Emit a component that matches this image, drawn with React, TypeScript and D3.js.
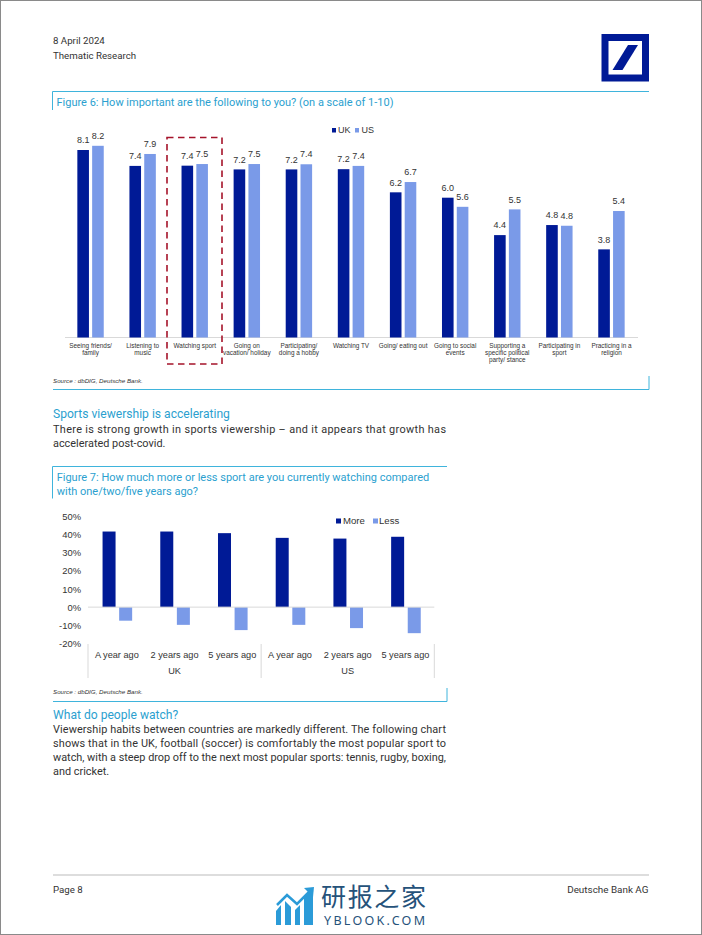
import React from "react";
import * as d3 from "d3";

const categories6 = [
  ["Seeing friends/", "family"],
  ["Listening to", "music"],
  ["Watching sport"],
  ["Going on", "vacation/ holiday"],
  ["Participating/", "doing a hobby"],
  ["Watching TV"],
  ["Going/ eating out"],
  ["Going to social", "events"],
  ["Supporting a", "specific political", "party/ stance"],
  ["Participating in", "sport"],
  ["Practicing in a", "religion"],
];
const ukLabels6 = [8.1, 7.4, 7.4, 7.2, 7.2, 7.2, 6.2, 6.0, 4.4, 4.8, 3.8];
const usLabels6 = [8.2, 7.9, 7.5, 7.5, 7.4, 7.4, 6.7, 5.6, 5.5, 4.8, 5.4];
const uk6 = [8.02, 7.34, 7.35, 7.19, 7.19, 7.2, 6.21, 5.98, 4.38, 4.81, 3.77];
const us6 = [8.2, 7.85, 7.42, 7.42, 7.41, 7.34, 6.65, 5.59, 5.48, 4.78, 5.41];

const periods7 = ["A year ago", "2 years ago", "5 years ago", "A year ago", "2 years ago", "5 years ago"];
const countries7 = ["UK", "US"];
const more7 = [41.8, 41.8, 40.9, 38.3, 37.9, 38.9];
const less7 = [-7.5, -9.8, -12.7, -9.8, -11.6, -14.4];
const ticks7 = [50, 40, 30, 20, 10, 0, -10, -20];

const para1 = [
  ["There is strong growth in sports viewership \u2013 and it appears that growth has", true],
  ["accelerated post-covid.", false],
] as const;
const para2 = [
  ["Viewership habits between countries are markedly different. The following chart", true],
  ["shows that in the UK, football (soccer) is comfortably the most popular sport to", true],
  ["watch, with a steep drop off to the next most popular sports: tennis, rugby, boxing,", true],
  ["and cricket.", false],
] as const;

const NAVY = "#001a96";
const LIGHT = "#7a9ae8";
const CYAN = "#3fb4dc";
const TITLE = "#2b9fcf";
const TEXT = "#333333";
const FONT = "Roboto, 'Liberation Sans', sans-serif";
const CHART = "'Liberation Sans', Arial, sans-serif";

export default function App() {
  const x6 = d3.scaleBand<number>().domain(d3.range(11)).range([64.5, 637.5]);
  const y6 = d3.scaleLinear().domain([0, 8.2]).range([337.5, 145.8]);
  const x7 = d3.scaleBand<number>().domain(d3.range(6)).range([88, 434.3]);
  const y7 = d3.scaleLinear().domain([-20, 50]).range([643.3, 516.7]);

  return (
    <svg
      width={702}
      height={935}
      viewBox="0 0 702 935"
      style={{ position: "absolute", left: 0, top: 0, background: "#fff" }}
      fontFamily={FONT}
    >
      <rect x={0.5} y={0.5} width={701} height={934} fill="none" stroke="#8a8a8a" />

      <text x={53} y={44} fontSize={9.7} fill={TEXT}>8 April 2024</text>
      <text x={53} y={59} fontSize={9.7} fill={TEXT}>Thematic Research</text>

      {/* Logo */}
      <rect x={601.5} y={34} width={47.5} height={47.5} fill={NAVY} />
      <rect x={608.5} y={41} width={33.5} height={33.5} fill="#fff" />
      <path d="M612.5 70 L628 45 L638 45 L622.5 70 Z" fill={NAVY} />

      {/* Figure 6 frame */}
      <path d="M52.5 110 V91.5 H649" fill="none" stroke={CYAN} />
      <text x={56.5} y={106} fontSize={11} fill={TITLE}>
        Figure 6: How important are the following to you? (on a scale of 1-10)
      </text>

      <rect x={332} y={128} width={4} height={4.5} fill={NAVY} />
      <text x={338} y={133} fontSize={9} fontFamily={CHART} fill={TEXT}>UK</text>
      <rect x={355} y={128} width={4} height={4.5} fill={LIGHT} />
      <text x={361.5} y={133} fontSize={9} fontFamily={CHART} fill={TEXT}>US</text>

      <line x1={65} x2={638} y1={337.5} y2={337.5} stroke="#d9d9d9" />
      {categories6.map((lines, i) => {
        const c = x6(i)! + x6.bandwidth() / 2;
        return (
          <g key={i} fontFamily={CHART}>
            <rect x={c - 13.2} y={y6(uk6[i])} width={11.6} height={337.5 - y6(uk6[i])} fill={NAVY} />
            <rect x={c + 1.6} y={y6(us6[i])} width={11.6} height={337.5 - y6(us6[i])} fill={LIGHT} />
            <text x={c - 7.4} y={y6(uk6[i]) - 6.8} fontSize={9} textAnchor="middle" fill={TEXT}>
              {ukLabels6[i].toFixed(1)}
            </text>
            <text x={c + 7.4} y={y6(us6[i]) - 6.8} fontSize={9} textAnchor="middle" fill={TEXT}>
              {usLabels6[i].toFixed(1)}
            </text>
            {lines.map((t, j) => (
              <text key={j} x={c} y={347.5 + j * 7.2} fontSize={6.4} textAnchor="middle" fill={TEXT}>
                {t}
              </text>
            ))}
          </g>
        );
      })}

      {/* Highlight */}
      <rect x={167} y={137.5} width={55} height={226.5} fill="none" stroke="#a5132a" strokeWidth={1.6} strokeDasharray="6.5 4.5" />

      <text x={53} y={382.5} fontSize={6.2} fontStyle="italic" fontFamily={CHART} fill={TEXT}>Source : dbDIG, Deutsche Bank.</text>
      <path d="M53 389.5 H649 V376" fill="none" stroke={CYAN} />

      {/* Section */}
      <text x={53} y={418.3} fontSize={12.1} fill={TITLE}>Sports viewership is accelerating</text>
      {para1.map(([t, just], i) => (
        <text key={i} x={53} y={432.5 + i * 14.3} fontSize={10.9} fill={TEXT} textLength={just ? 393 : undefined} lengthAdjust="spacing">
          {t}
        </text>
      ))}

      {/* Figure 7 frame */}
      <path d="M52.5 498.5 V466.5 H447" fill="none" stroke={CYAN} />
      <text x={56.7} y={481} fontSize={11} fill={TITLE}>
        Figure 7: How much more or less sport are you currently watching compared
      </text>
      <text x={56.7} y={495.4} fontSize={11} fill={TITLE}>with one/two/five years ago?</text>

      <g fontFamily={CHART}>
        {ticks7.map((t) => (
          <text key={t} x={81} y={y7(t) + 3.5} fontSize={9.4} textAnchor="end" fill={TEXT}>
            {t}%
          </text>
        ))}
        <rect x={336} y={518.5} width={5} height={5} fill={NAVY} />
        <text x={343} y={524.3} fontSize={9.6} fill={TEXT}>More</text>
        <rect x={373} y={518.5} width={5} height={5} fill={LIGHT} />
        <text x={379} y={524.3} fontSize={9.6} fill={TEXT}>Less</text>

        {more7.map((v, i) => {
          const c = x7(i)! + x7.bandwidth() / 2;
          return (
            <g key={i}>
              <rect x={c - 14.3} y={y7(v)} width={13} height={y7(0) - y7(v)} fill={NAVY} />
              <rect x={c + 2.3} y={y7(0)} width={13} height={y7(less7[i]) - y7(0)} fill={LIGHT} />
              <text x={c} y={657.5} fontSize={9.2} textAnchor="middle" fill={TEXT}>{periods7[i]}</text>
            </g>
          );
        })}
        <line x1={88} x2={434.3} y1={y7(0)} y2={y7(0)} stroke="#d9d9d9" />
        {[0, 3, 6].map((k) => {
          const px = k === 6 ? 434.3 : x7(k)!;
          return <line key={k} x1={px} x2={px} y1={644} y2={678} stroke="#d9d9d9" />;
        })}
        {countries7.map((c, i) => (
          <text key={c} x={x7(i * 3)! + x7.bandwidth() * 1.5} y={673.5} fontSize={9.2} textAnchor="middle" fill={TEXT}>
            {c}
          </text>
        ))}
      </g>

      <text x={53} y={693.5} fontSize={6.2} fontStyle="italic" fontFamily={CHART} fill={TEXT}>Source : dbDIG, Deutsche Bank.</text>
      <path d="M53 701.5 H447 V688" fill="none" stroke={CYAN} />

      <text x={53} y={718.6} fontSize={12.1} fill={TITLE}>What do people watch?</text>
      {para2.map(([t, just], i) => (
        <text key={i} x={53} y={732.5 + i * 14.25} fontSize={10.9} fill={TEXT} textLength={just ? 393 : undefined} lengthAdjust="spacing">
          {t}
        </text>
      ))}

      {/* Footer */}
      <line x1={53} x2={649} y1={875} y2={875} stroke="#bbb" />
      <text x={53} y={893} fontSize={9.7} fill={TEXT}>Page 8</text>
      <text x={648.5} y={893} fontSize={9.9} textAnchor="end" fill={TEXT}>Deutsche Bank AG</text>

      {/* Watermark */}
      <g fill="#2b9bd8">
        <path d="M276 925 V911 L281 905 V925 Z" />
        <path d="M285 925 V901 L291 907 V925 Z" />
        <path d="M295 925 V910 L300 905 V925 Z" />
        <path d="M304 925 V898 L313 889 V925 Z" />
      </g>
      <path d="M277 905 L287 895 L297 904 L311 890" fill="none" stroke="#2b9bd8" strokeWidth={2.5} />
      <path d="M304 888 L314 887 L313 897 Z" fill="#2b9bd8" />
      <text x={321} y={906} fontSize={25} fontFamily="'Noto Sans CJK SC'" fill="#25527a" textLength={105}>研报之家</text>
      <text x={324} y={925} fontSize={12.5} fontFamily="'Noto Sans', sans-serif" fill="#25527a" textLength={101}>YBLOOK.COM</text>
    </svg>
  );
}
